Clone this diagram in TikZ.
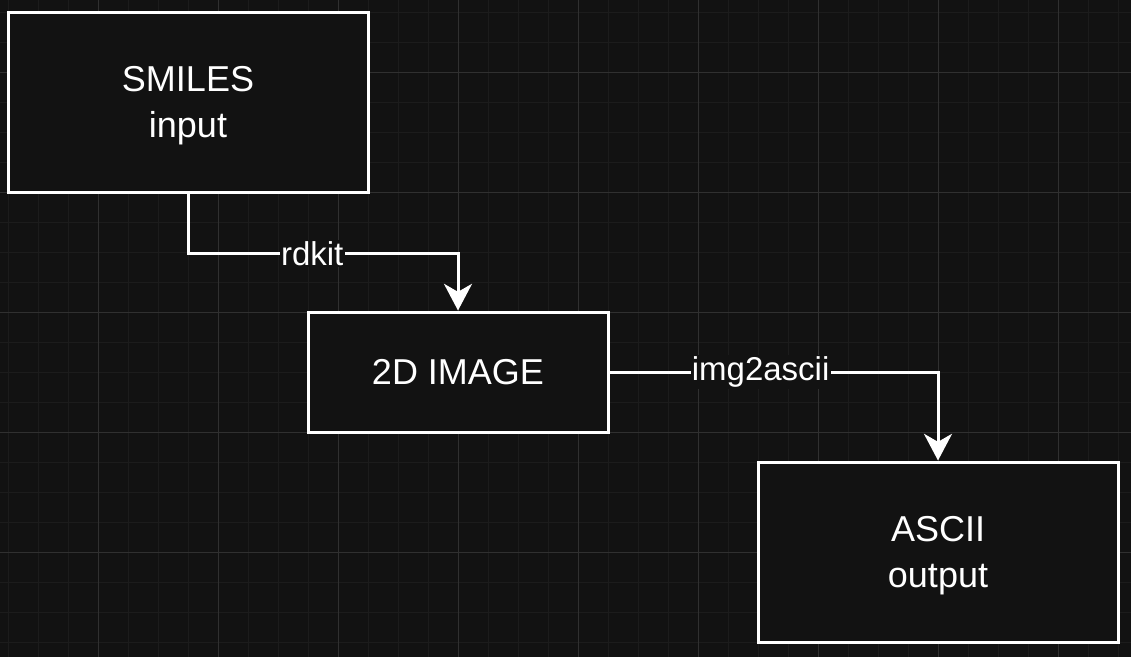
\documentclass[tikz,border=0pt]{standalone}
\usepackage{fontspec}
\setmainfont{Liberation Sans}
\usetikzlibrary{arrows.meta}
\definecolor{bg}{HTML}{121212}
\definecolor{gridminor}{HTML}{1C1C1C}
\definecolor{gridmajor}{HTML}{303030}
\tikzset{
  box/.style={draw=white, line width=2.25pt, fill=bg, text=white, align=center,
    font=\fontsize{27}{34}\selectfont, inner sep=0pt},
  conn/.style={draw=white, line width=2.25pt,
    -{Stealth[length=20pt, width=21pt, inset=6pt]}},
  lbl/.style={fill=bg, text=white, font=\fontsize{24.75}{28}\selectfont, inner sep=1pt}
}
\begin{document}
\begin{tikzpicture}[x=0.75pt, y=-0.75pt]
\fill[bg] (0,0) rectangle (1131,657);
\useasboundingbox (0,0) rectangle (1131,657);
% minor grid
\foreach \gx in {8,38,...,1130} \draw[gridminor, line width=0.75pt] (\gx,0) -- (\gx,657);
\foreach \gy in {12,42,...,656} \draw[gridminor, line width=0.75pt] (0,\gy) -- (1131,\gy);
% major grid
\foreach \gx in {98,218,...,1130} \draw[gridmajor, line width=0.75pt] (\gx,0) -- (\gx,657);
\foreach \gy in {72,192,...,656} \draw[gridmajor, line width=0.75pt] (0,\gy) -- (1131,\gy);

\node[box, text depth=0pt, minimum width=270pt, minimum height=135pt] (smiles) at (188,102) {SMILES\\input};
\node[box, minimum width=225pt, minimum height=90pt] (img) at (458,372) {2D IMAGE};
\node[box, text depth=0pt, minimum width=270pt, minimum height=135pt] (ascii) at (938,552) {ASCII\\output};

\draw[conn] (smiles.south) -- ++(0,60) coordinate (c1)
  -- node[lbl, pos=0.46] {rdkit} (c1 -| img.north) -- (img.north);
\draw[conn] (img.east) -- node[lbl, pos=0.46] {img2ascii} (img.east -| ascii.north) -- (ascii.north);
\end{tikzpicture}
\end{document}
